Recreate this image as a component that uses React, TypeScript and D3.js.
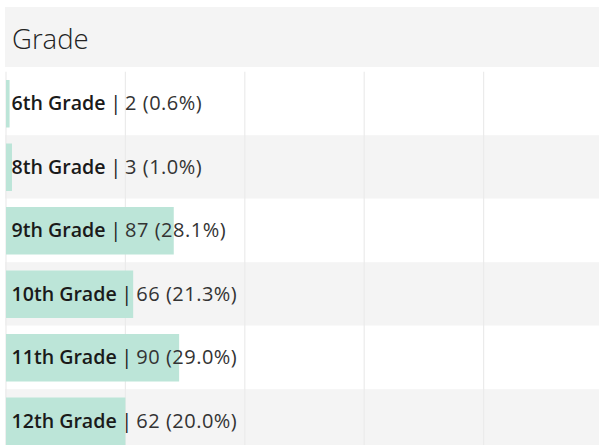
import React from "react";
import * as d3 from "d3";

const categories = ["6th Grade", "8th Grade", "9th Grade", "10th Grade", "11th Grade", "12th Grade"];
const counts = [2, 3, 87, 66, 90, 62];
const percents = [0.6, 1.0, 28.1, 21.3, 29.0, 20.0];
const gridTicks = [0, 20, 40, 60, 80, 100];
const title = "Grade";

const W = 599;
const H = 448;
const FONT = "'Open Sans', 'Noto Sans', sans-serif";

export default function App() {
  const x = d3.scaleLinear().domain([0, 100]).range([6, 603]);
  const y = d3.scaleBand<string>().domain(categories).range([71.7, 71.7 + 6 * 63.5]).paddingInner(0);
  const bh = y.bandwidth();
  const clipBottom = 445;

  return (
    <svg
      width={W}
      height={H}
      style={{ position: "absolute", left: 0, top: 0, background: "#fff" }}
      fontFamily={FONT}
    >
      <defs>
        <clipPath id="plotclip">
          <rect x={0} y={0} width={W} height={clipBottom} />
        </clipPath>
      </defs>
      <rect x={5} y={7} width={W - 5} height={60} fill="#f4f4f4" />
      <text x={12} y={48.5} fontSize={27.5} fontWeight={300} fill="#222">
        {title}
      </text>
      <g clipPath="url(#plotclip)">
        {categories.map((c, i) => (
          <rect
            key={"bg" + c}
            x={5}
            y={y(c)!}
            width={W - 5}
            height={bh}
            fill={i % 2 === 1 ? "#f4f4f4" : "#ffffff"}
          />
        ))}
        {gridTicks.map((t) => (
          <line
            key={"g" + t}
            x1={x(t)}
            x2={x(t)}
            y1={71.7}
            y2={clipBottom}
            stroke="#ebebeb"
            strokeWidth={1.2}
          />
        ))}
        {categories.map((c, i) => (
          <rect
            key={"bar" + c}
            x={x(0)}
            y={y(c)! + 8.3}
            width={x(percents[i]) - x(0)}
            height={bh - 16}
            fill="#bce5d8"
          />
        ))}
        {categories.map((c, i) => (
          <text
            key={"t" + c}
            x={11.5}
            y={y(c)! + bh / 2 + 7}
            fontSize={19.6}
            fill="#1a1a1a"
          >
            <tspan fontWeight={600}>{c}</tspan>
            <tspan fontWeight={400} fontSize={20} letterSpacing={-0.6}>{" | "}</tspan>
            <tspan fontWeight={400} fontSize={20} letterSpacing={0.5} fill="#333">{`${counts[i]} (${percents[i].toFixed(1)}%)`}</tspan>
          </text>
        ))}
      </g>
    </svg>
  );
}
